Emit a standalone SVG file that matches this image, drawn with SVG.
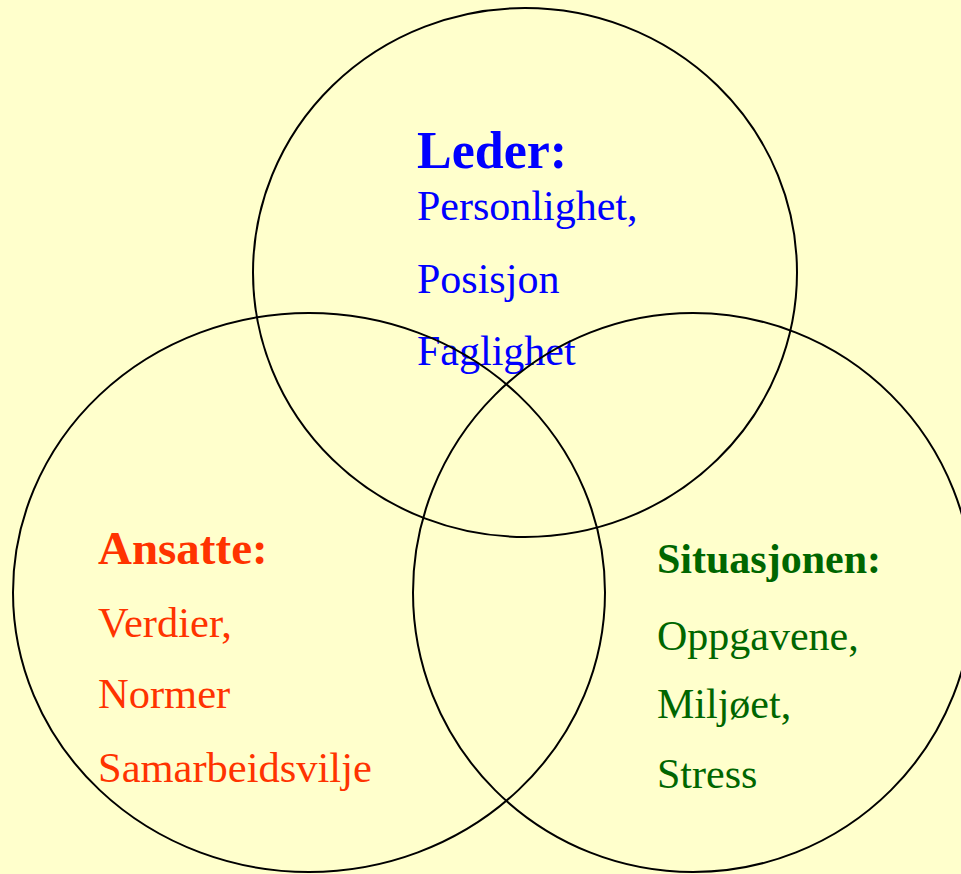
<svg xmlns="http://www.w3.org/2000/svg" width="961" height="874" viewBox="0 0 961 874">
<style>
.c{fill:none;stroke:#000;stroke-width:2}
text{font-family:"Liberation Serif","Times New Roman",serif}
.b{font-weight:bold}
.blue{fill:#0000FF}
.red{fill:#FF3300}
.green{fill:#006600}
</style>
<rect width="961" height="874" fill="#FFFFCC"/>
<g id="connectors"></g>
<g id="leder">
<ellipse class="c" cx="525" cy="272.5" rx="272" ry="264.5"/>
<text class="blue b" x="417" y="168" font-size="52">Leder:</text>
<text class="blue" x="417" y="220" font-size="42">Personlighet,</text>
<text class="blue" x="417" y="293" font-size="42">Posisjon</text>
<text class="blue" x="417" y="365" font-size="42">Faglighet</text>
</g>
<g id="ansatte">
<ellipse class="c" cx="309" cy="592.5" rx="296" ry="279.5"/>
<text class="red b" x="98" y="564" font-size="47">Ansatte:</text>
<text class="red" x="98" y="637" font-size="42.5">Verdier,</text>
<text class="red" x="98" y="708" font-size="42.5">Normer</text>
<text class="red" x="98" y="782" font-size="42.5">Samarbeidsvilje</text>
</g>
<g id="situasjonen">
<ellipse class="c" cx="693" cy="592.5" rx="280" ry="279.5"/>
<text class="green b" x="657" y="573" font-size="42">Situasjonen:</text>
<text class="green" x="657" y="650" font-size="42">Oppgavene,</text>
<text class="green" x="657" y="718" font-size="42">Miljøet,</text>
<text class="green" x="657" y="788" font-size="42">Stress</text>
</g>
</svg>
